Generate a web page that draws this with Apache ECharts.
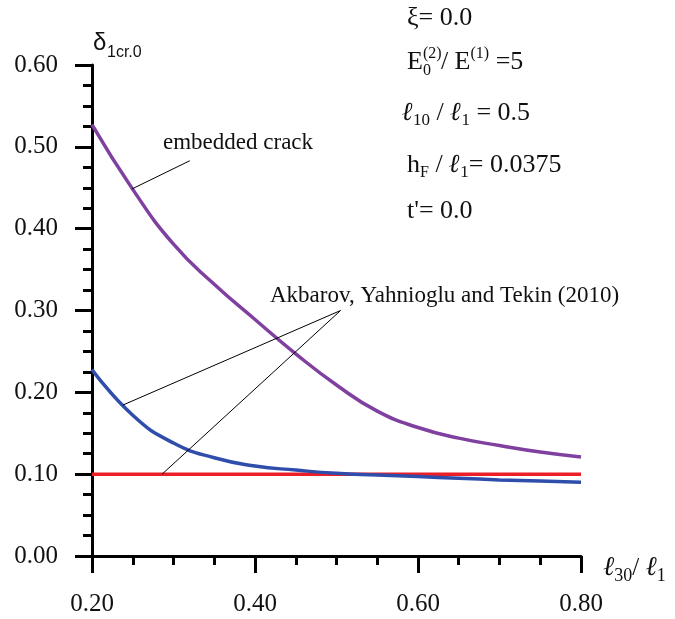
<!DOCTYPE html>
<html>
<head>
<meta charset="utf-8">
<script src="https://cdn.jsdelivr.net/npm/echarts@6/dist/echarts.min.js"></script>
<style>
  html, body { margin: 0; padding: 0; background: #fff; }
  #main { width: 675px; height: 619px; }
</style>
</head>
<body>
<div id="main"></div>
<script>
// x: l30 / l1
var xValues = [0.20, 0.25, 0.30, 0.35, 0.40, 0.45, 0.50, 0.55, 0.60, 0.65, 0.70, 0.75, 0.80];
// embedded crack (purple)
var embeddedCrack = [0.527, 0.448, 0.381, 0.332, 0.289, 0.247, 0.209, 0.177, 0.157, 0.144, 0.135, 0.127, 0.121];
// Akbarov, Yahnioglu and Tekin (2010) - blue curve
var akbarovCurve = [0.228, 0.172, 0.138, 0.120, 0.110, 0.105, 0.101, 0.099, 0.097, 0.095, 0.093, 0.0915, 0.090];
// Akbarov, Yahnioglu and Tekin (2010) - red line
var limitX = [0.20, 0.80];
var limitValue = [0.10, 0.10];
// tick labels
var xTicks = ['0.20', '0.40', '0.60', '0.80'];
var yTicks = ['0.00', '0.10', '0.20', '0.30', '0.40', '0.50', '0.60'];

var serif = '"Liberation Serif", "Times New Roman", serif';
var sans = '"Liberation Sans", Arial, sans-serif';

function pairs(xs, ys) {
  return xs.map(function (x, i) { return [x, ys[i]]; });
}

//把几段文字按顺序排在一行（上下标用 dy 偏移）
var measureCtx = document.createElement('canvas').getContext('2d');
function textRun(x, y, parts) {
  var cx = x;
  var out = [];
  parts.forEach(function (p) {
    var size = p.size || 26;
    var font = (p.italic ? 'italic ' : '') + (p.bold ? 'bold ' : '') + size + 'px ' + (p.family || serif);
    measureCtx.font = font;
    out.push({
      type: 'text',
      x: cx,
      y: y + (p.dy || 0),
      silent: true,
      style: {
        text: p.t, font: font, fill: '#111',
        align: 'left', verticalAlign: 'middle',
        textAlign: 'left', textVerticalAlign: 'middle'
      }
    });
    if (!p.noAdvance) cx += (p.adv != null ? p.adv : measureCtx.measureText(p.t).width) + (p.gap || 0);
  });
  return out;
}

function leader(a, b) {
  return [{ coord: a }, { coord: b }];
}

var myChart = echarts.init(document.getElementById('main'));

var graphics = []
  .concat(textRun(93, 43, [{ t: 'δ', size: 24, family: sans }]))
  .concat(textRun(107, 53, [{ t: '1cr.0', size: 16, family: sans }]))
  .concat(textRun(603, 568, [
    { t: 'ℓ', size: 27, italic: true },
    { t: '30', size: 18, dy: 8 },
    { t: '/ ', size: 25 },
    { t: 'ℓ', size: 27, italic: true },
    { t: '1', size: 18, dy: 8 }
  ]))
  .concat(textRun(407, 18, [{ t: 'ξ= 0.0' }]))
  .concat(textRun(407, 62, [
    { t: 'E' },
    { t: '(2)', size: 16, dy: -8, noAdvance: true },
    { t: '0', size: 16, dy: 9, adv: 18 },
    { t: '/ E' },
    { t: '(1)', size: 16, dy: -8 },
    { t: ' =5' }
  ]))
  .concat(textRun(402, 113, [
    { t: 'ℓ', bold: true, italic: true },
    { t: '10', size: 17, dy: 8 },
    { t: ' / ' },
    { t: 'ℓ', bold: true, italic: true },
    { t: '1', size: 17, dy: 8 },
    { t: ' = 0.5' }
  ]))
  .concat(textRun(407, 165, [
    { t: 'h' },
    { t: 'F', size: 16, dy: 8 },
    { t: ' / ' },
    { t: 'ℓ', bold: true, italic: true },
    { t: '1', size: 17, dy: 8 },
    { t: '= 0.0375' }
  ]))
  .concat(textRun(407, 211, [{ t: "t'= 0.0" }]))
  .concat(textRun(163, 143, [{ t: 'embedded crack', size: 23 }]))
  .concat(textRun(270, 296, [{ t: 'Akbarov, Yahnioglu and Tekin (2010)', size: 23 }]));

var option = {
  animation: false,
  grid: { left: 92, right: 94, top: 65, bottom: 63 },
  xAxis: {
    type: 'value',
    min: 0.2,
    max: 0.8,
    interval: 0.2,
    axisLine: { lineStyle: { color: '#000', width: 3 } },
    axisTick: { length: 17, lineStyle: { color: '#000', width: 3 } },
    minorTick: { show: true, splitNumber: 4, length: 9, lineStyle: { color: '#000', width: 3 } },
    splitLine: { show: false },
    axisLabel: {
      margin: 36,
      color: '#111',
      fontSize: 25,
      fontFamily: serif,
      formatter: function (v) { return xTicks[Math.round((v - 0.2) / 0.2)] || v.toFixed(2); }
    }
  },
  yAxis: {
    type: 'value',
    min: 0,
    max: 0.6,
    interval: 0.1,
    axisLine: { show: true, lineStyle: { color: '#000', width: 3 } },
    axisTick: { show: true, length: 17, lineStyle: { color: '#000', width: 3 } },
    minorTick: { show: true, splitNumber: 4, length: 9, lineStyle: { color: '#000', width: 3 } },
    splitLine: { show: false },
    axisLabel: {
      margin: 34,
      color: '#111',
      fontSize: 25,
      fontFamily: serif,
      formatter: function (v) { return yTicks[Math.round(v * 10)] || v.toFixed(2); }
    }
  },
  series: [{
    name: 'embedded crack',
    type: 'line',
    data: pairs(xValues, embeddedCrack),
    smooth: true,
    showSymbol: false,
    lineStyle: { color: '#7f40a0', width: 3.5 },
    z: 3
  }, {
    name: 'Akbarov (curve)',
    type: 'line',
    data: pairs(xValues, akbarovCurve),
    smooth: true,
    showSymbol: false,
    lineStyle: { color: '#2f4dab', width: 3.5 },
    z: 3
  }, {
    name: 'Akbarov (line)',
    type: 'line',
    data: pairs(limitX, limitValue),
    showSymbol: false,
    lineStyle: { color: '#ec1f26', width: 3.5 },
    z: 2,
    //引线
    markLine: {
      silent: true,
      symbol: 'none',
      label: { show: false },
      lineStyle: { color: '#000', width: 1, type: 'solid' },
      data: [
        leader([0.320, 0.483], [0.249, 0.4485]),
        leader([0.505, 0.300], [0.238, 0.1845]),
        leader([0.505, 0.300], [0.286, 0.100])
      ]
    }
  }],
  graphic: graphics
};

myChart.setOption(option);
</script>
</body>
</html>
